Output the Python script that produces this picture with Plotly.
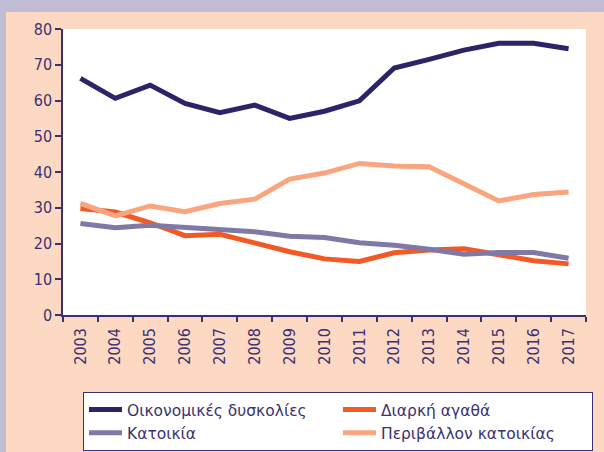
import plotly.graph_objects as go

years = [str(y) for y in range(2003, 2018)]
oikonomikes = [66.2, 60.6, 64.3, 59.2, 56.6, 58.7, 55.0, 57.0, 59.9, 69.1, 71.5, 74.1, 76.0, 76.0, 74.5]
diarki = [29.8, 28.8, 25.8, 22.2, 22.6, 20.2, 17.7, 15.7, 15.0, 17.4, 18.2, 18.5, 16.8, 15.2, 14.3]
katoikia = [25.6, 24.4, 25.1, 24.4, 23.8, 23.3, 22.0, 21.7, 20.2, 19.5, 18.4, 17.0, 17.5, 17.5, 15.9]
perivallon = [31.2, 27.7, 30.5, 28.9, 31.2, 32.4, 38.0, 39.7, 42.4, 41.7, 41.5, 36.8, 31.9, 33.7, 34.4]

series = [
    ("Οικονομικές δυσκολίες", oikonomikes, "#2B2468"),
    ("Διαρκή αγαθά", diarki, "#F15A24"),
    ("Κατοικία", katoikia, "#8079A6"),
    ("Περιβάλλον κατοικίας", perivallon, "#F9A57F"),
]

fig = go.Figure()
for name, vals, col in series:
    fig.add_trace(go.Scatter(x=years, y=vals, name=name, mode="lines",
                             line=dict(color=col, width=5)))

W, H = 604, 452
L, R, T, B = 63, 18, 29, 137
pw, ph = W - L - R, H - T - B

def px_x(x):
    return (x - L) / pw

def px_y(y):
    return (H - B - y) / ph

axis_col = "#3A3270"
tick_font = dict(family="Liberation Sans Narrow, DejaVu Sans Condensed, Liberation Sans, Arial", size=16, color=axis_col)
fig.update_layout(
    width=W, height=H,
    margin=dict(l=L, r=R, t=T, b=B, pad=0, autoexpand=False),
    paper_bgcolor="#FDD9C3",
    plot_bgcolor="white",
    font=dict(family="DejaVu Sans, Liberation Sans, Arial, sans-serif", color=axis_col, size=16),
    showlegend=True,
    legend=dict(orientation="h", x=px_x(83), y=px_y(392), xanchor="left", yanchor="top",
                bgcolor="white", bordercolor=axis_col, borderwidth=1,
                entrywidth=206, entrywidthmode="pixels", itemwidth=33,
                font=dict(family="DejaVu Sans, Liberation Sans, Arial", size=15.5, color=axis_col),
                tracegroupgap=0),
    shapes=[
        dict(type="rect", xref="paper", yref="paper", x0=px_x(-5), x1=px_x(W + 5),
             y0=px_y(12), y1=px_y(-5), fillcolor="#C0BCD4", line=dict(width=0), layer="below"),
        dict(type="rect", xref="paper", yref="paper", x0=px_x(-5), x1=px_x(6),
             y0=px_y(H + 5), y1=px_y(-5), fillcolor="#C0BCD4", line=dict(width=0), layer="below"),
    ],
)
fig.update_xaxes(type="category", tickson="boundaries", tickangle=-90, range=[-0.5, 14.5],
                 showline=True, linecolor=axis_col, linewidth=1.5,
                 ticks="outside", ticklen=5, tickcolor=axis_col, tickwidth=1.5,
                 ticklabelstandoff=5,
                 showgrid=False, zeroline=False, tickfont=tick_font)
fig.update_yaxes(range=[0, 80], dtick=10, showline=True, linecolor=axis_col, linewidth=1.5,
                 ticks="outside", ticklen=6, tickcolor=axis_col, tickwidth=1.5,
                 showgrid=False, zeroline=False, tickfont=tick_font)

fig.write_html("out.html", config={"displayModeBar": False},
               post_script="document.body.style.margin='0';document.body.style.overflow='hidden';")
